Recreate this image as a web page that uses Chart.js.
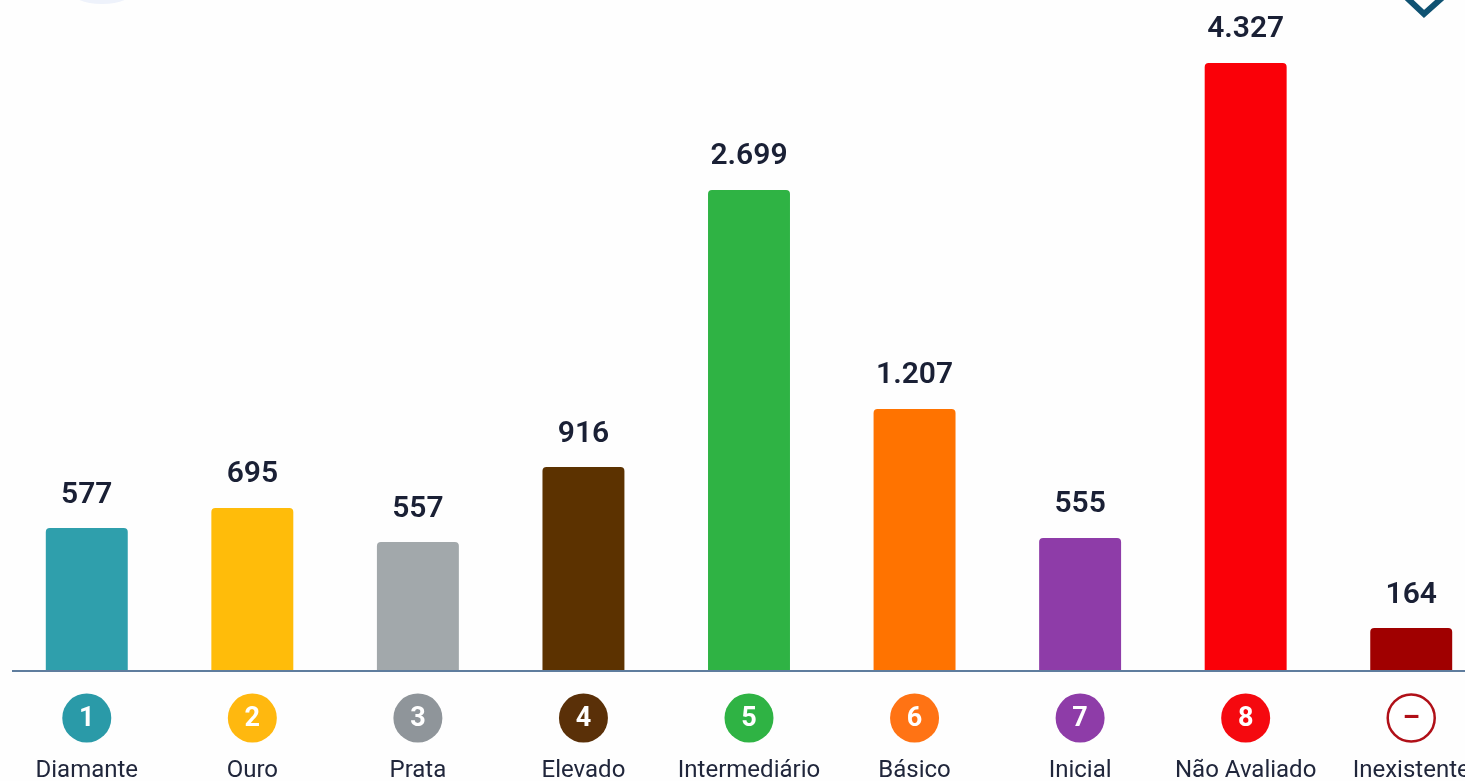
<!DOCTYPE html>
<html>
<head>
<meta charset="utf-8">
<title>Níveis</title>
<script src="https://cdn.jsdelivr.net/npm/chart.js@4"></script>
<style>
    html, body { margin: 0; padding: 0; background: #fefefe; overflow: hidden; }
    canvas { display: block; }
</style>
</head>
<body>
<canvas id="chart" width="1494" height="781"></canvas>
<script>
const categories = ['Diamante', 'Ouro', 'Prata', 'Elevado', 'Intermediário', 'Básico', 'Inicial', 'Não Avaliado', 'Inexistente'];
const badges = ['1', '2', '3', '4', '5', '6', '7', '8', '–'];
// numbers printed above the bars
const printedValues = [577, 695, 557, 916, 2699, 1207, 555, 4327, 164];
// the bars in the picture are not proportional to the printed numbers,
// so these are the heights as drawn, read against the 4327 bar
const drawnValues = [1012, 1155, 912, 1447, 3422, 1861, 941, 4327, 299];
const barColors = ['#2f9fac', '#ffbc0a', '#a2a8ab', '#5c3200', '#2fb344', '#ff7300', '#8e3ca8', '#fa0008', '#a00000'];
const badgeColors = ['#2a9aa8', '#ffb80f', '#8f959a', '#5a3008', '#2fb344', '#ff7314', '#8e3ca8', '#f5090f', '#ffffff'];

const formatValue = v => String(v).replace(/\B(?=(\d{3})+$)/g, '.');

// baseline, value labels, numbered badges and the bits cut off at the top
const decorations = {
    id: 'decorations',
    afterDatasetsDraw(chart) {
        const ctx = chart.ctx;
        const xScale = chart.scales.x;
        const baseY = chart.chartArea.bottom;
        ctx.save();

        ctx.fillStyle = '#eef2fb';
        ctx.beginPath();
        ctx.ellipse(102, -14, 36, 18, 0, 0, Math.PI * 2);
        ctx.fill();

        ctx.strokeStyle = '#0f5272';
        ctx.lineWidth = 6;
        ctx.beginPath();
        ctx.moveTo(1406, -3);
        ctx.lineTo(1424, 14);
        ctx.lineTo(1443, -3);
        ctx.stroke();

        ctx.strokeStyle = '#5f7d9e';
        ctx.lineWidth = 2;
        ctx.beginPath();
        ctx.moveTo(12, baseY + 1);
        ctx.lineTo(chart.width, baseY + 1);
        ctx.stroke();

        ctx.textAlign = 'center';
        ctx.textBaseline = 'middle';
        chart.getDatasetMeta(0).data.forEach((bar, i) => {
            ctx.fillStyle = '#1a2035';
            ctx.font = '600 30px Roboto';
            ctx.fillText(formatValue(printedValues[i]), bar.x, bar.y - 33);

            const x = xScale.getPixelForValue(i);
            ctx.beginPath();
            ctx.arc(x, 718, i === 8 ? 23.5 : 24.5, 0, Math.PI * 2);
            ctx.fillStyle = badgeColors[i];
            ctx.fill();
            if (i === 8) {
                ctx.strokeStyle = '#b01018';
                ctx.lineWidth = 2.5;
                ctx.stroke();
            }
            ctx.fillStyle = i === 8 ? '#b01018' : '#ffffff';
            ctx.font = '700 27px Roboto';
            ctx.fillText(badges[i], x, 719);
        });
        ctx.restore();
    }
};

new Chart(document.getElementById('chart').getContext('2d'), {
    type: 'bar',
    data: {
        labels: categories,
        datasets: [{
            data: drawnValues,
            backgroundColor: barColors,
            barPercentage: 0.495,
            categoryPercentage: 1,
            borderRadius: { topLeft: 4, topRight: 4, bottomLeft: 0, bottomRight: 0 },
            borderSkipped: false
        }]
    },
    options: {
        responsive: false,
        animation: false,
        layout: { padding: { left: 4 } },
        plugins: { legend: { display: false }, tooltip: { enabled: false } },
        scales: {
            x: {
                grid: { display: false, drawTicks: false },
                border: { display: false },
                // the big tick padding would otherwise also shrink the plot sideways
                afterFit: scale => {
                    scale.height = 111;
                    scale.paddingLeft = 0;
                    scale.paddingRight = 0;
                },
                ticks: {
                    autoSkip: false,
                    maxRotation: 0,
                    padding: 87,
                    color: '#20263b',
                    font: { family: 'Roboto', size: 24 }
                }
            },
            y: { display: false, min: 0, max: 4776 }
        }
    },
    plugins: [decorations]
});
</script>
</body>
</html>
